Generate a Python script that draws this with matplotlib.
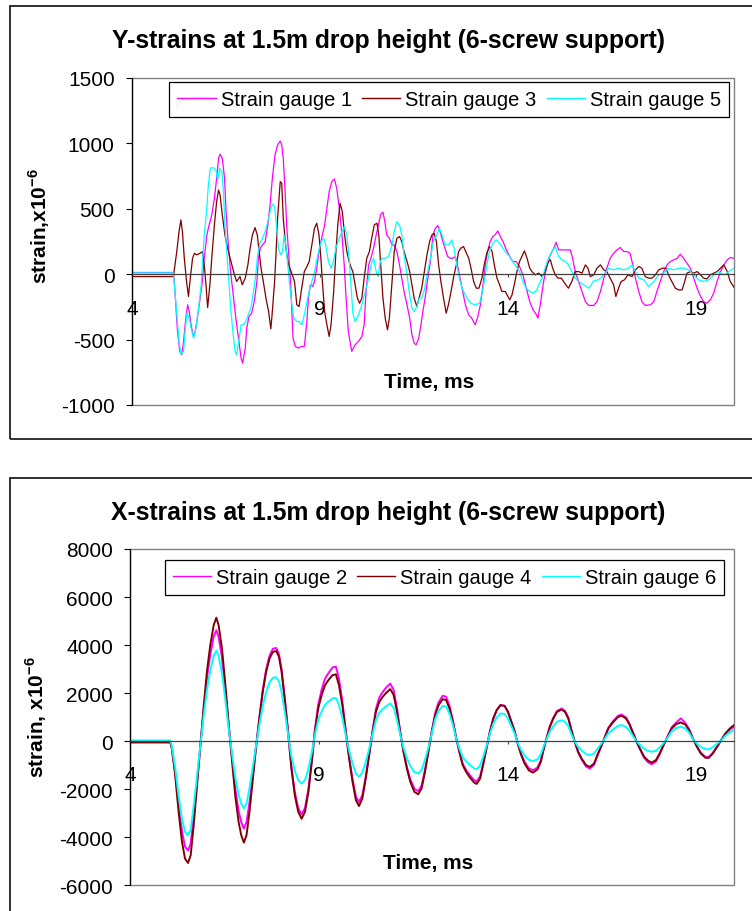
import matplotlib
matplotlib.use("Agg")
import matplotlib.pyplot as plt
from matplotlib.patches import Rectangle

plt.rcParams['font.family'] = ['Liberation Sans', 'DejaVu Sans']
plt.rcParams['axes.unicode_minus'] = False
plt.rcParams['mathtext.fontset'] = 'custom'
plt.rcParams['mathtext.rm'] = 'Liberation Sans'
plt.rcParams['mathtext.bf'] = 'Liberation Sans:bold'

# ---------------- Y-strains (gauges 1, 3, 5) ----------------
t_g1 = [4.0, 5.10, 5.13, 5.17, 5.21, 5.27, 5.32, 5.37, 5.43, 5.48, 5.52, 5.57, 5.63, 5.68, 5.75, 5.81,
        5.87, 5.92, 5.99, 6.05, 6.12, 6.19, 6.25, 6.30, 6.34, 6.40, 6.46, 6.50, 6.56, 6.62, 6.70, 6.76,
        6.83, 6.90, 6.94, 7.01, 7.05, 7.11, 7.18, 7.25, 7.32, 7.36, 7.41, 7.47, 7.54, 7.61, 7.67, 7.73,
        7.80, 7.87, 7.94, 7.98, 8.02, 8.07, 8.11, 8.16, 8.21, 8.25, 8.28, 8.34, 8.42, 8.51, 8.58, 8.64,
        8.69, 8.74, 8.80, 8.85, 8.91, 8.97, 9.04, 9.12, 9.18, 9.24, 9.31, 9.38, 9.44, 9.50, 9.58, 9.64,
        9.69, 9.75, 9.84, 9.93, 10.02, 10.11, 10.17, 10.22, 10.29, 10.35, 10.42, 10.49, 10.55, 10.61,
        10.67, 10.72, 10.77, 10.84, 10.91, 10.97, 11.04, 11.11, 11.17, 11.23, 11.31, 11.38, 11.44, 11.50,
        11.55, 11.62, 11.68, 11.73, 11.79, 11.85, 11.93, 12.00, 12.06, 12.13, 12.19, 12.26, 12.32, 12.39,
        12.46, 12.53, 12.59, 12.65, 12.72, 12.79, 12.86, 12.95, 13.03, 13.12, 13.18, 13.26, 13.33, 13.39,
        13.45, 13.52, 13.59, 13.65, 13.72, 13.79, 13.86, 13.95, 14.04, 14.12, 14.21, 14.30, 14.39, 14.48,
        14.57, 14.66, 14.74, 14.79, 14.85, 14.94, 15.03, 15.12, 15.21, 15.27, 15.34, 15.43, 15.56, 15.65,
        15.71, 15.78, 15.87, 15.96, 16.05, 16.14, 16.27, 16.36, 16.45, 16.54, 16.62, 16.71, 16.80, 16.89,
        16.98, 17.07, 17.16, 17.24, 17.31, 17.38, 17.47, 17.55, 17.64, 17.78, 17.87, 17.95, 18.04, 18.13,
        18.22, 18.31, 18.40, 18.49, 18.57, 18.66, 18.75, 18.84, 18.93, 19.02, 19.11, 19.19, 19.28, 19.37,
        19.46, 19.55, 19.64, 19.73, 19.82, 19.90, 20.0]
v_g1 = [13, 13, -81, -260, -438, -590, -616, -514, -336, -234, -285, -387, -476, -438, -311, -183,
        -56, 122, 300, 377, 453, 580, 733, 886, 917, 886, 733, 479, 224, 20, -183, -336,
        -489, -642, -680, -565, -412, -323, -298, -209, -56, 122, 199, 224, 250, 377, 530, 733,
        911, 988, 1018, 988, 886, 631, 377, 173, -30, -285, -489, -552, -565, -552, -552, -387,
        -183, -81, -94, -56, 46, 173, 275, 377, 504, 631, 708, 728, 657, 530, 300, 71,
        -183, -438, -590, -540, -514, -476, -387, -132, 71, 122, 199, 300, 377, 458,
        474, 402, 300, 275, 224, 224, 173, 71, -30, -132, -234, -336, -463, -527,
        -540, -489, -387, -285, -183, -56, 97, 300, 351, 372, 326, 250, 199, 135,
        122, 122, 135, 71, -30, -132, -234, -311, -336, -387, -336, -234, -81, 71,
        173, 250, 288, 300, 331, 288, 250, 186, 135, 97, 97, 59, -5, -107,
        -209, -272, -306, -336, -234, -56, 71, 148, 199, 244, 186, 186, 186, 186,
        122, 20, -56, -132, -209, -239, -239, -209, -132, -30, 46, 122, 160, 186,
        204, 173, 173, 160, 71, -30, -132, -209, -239, -234, -209, -132, -56, 20,
        71, 97, 110, 122, 153, 122, 84, 46, -30, -107, -170, -209, -222, -196,
        -145, -56, 20, 71, 110, 127, 122]

t_g3 = [4.0, 5.10, 5.19, 5.25, 5.30, 5.34, 5.39, 5.45, 5.50, 5.55, 5.61, 5.66, 5.72, 5.81, 5.87, 5.92,
        5.96, 6.01, 6.07, 6.12, 6.19, 6.25, 6.30, 6.34, 6.40, 6.47, 6.54, 6.61, 6.70, 6.78, 6.87, 6.93,
        7.01, 7.08, 7.14, 7.20, 7.27, 7.33, 7.38, 7.43, 7.49, 7.56, 7.63, 7.69, 7.73, 7.79, 7.83, 7.87,
        7.94, 7.98, 8.02, 8.09, 8.16, 8.23, 8.32, 8.38, 8.44, 8.51, 8.58, 8.65, 8.71, 8.78, 8.85, 8.91,
        8.97, 9.02, 9.06, 9.12, 9.18, 9.24, 9.29, 9.36, 9.42, 9.47, 9.53, 9.59, 9.65, 9.71, 9.77, 9.83,
        9.87, 9.93, 9.99, 10.05, 10.11, 10.17, 10.24, 10.31, 10.37, 10.44, 10.51, 10.56, 10.61, 10.67,
        10.73, 10.79, 10.84, 10.91, 10.97, 11.04, 11.11, 11.17, 11.23, 11.31, 11.38, 11.44, 11.50, 11.57,
        11.63, 11.70, 11.77, 11.84, 11.91, 11.97, 12.03, 12.09, 12.15, 12.21, 12.28, 12.35, 12.41, 12.48,
        12.55, 12.62, 12.68, 12.74, 12.81, 12.87, 12.95, 13.01, 13.08, 13.15, 13.22, 13.30, 13.36, 13.43,
        13.50, 13.57, 13.63, 13.70, 13.77, 13.83, 13.92, 14.04, 14.10, 14.16, 14.23, 14.30, 14.36, 14.43,
        14.50, 14.57, 14.63, 14.72, 14.81, 14.90, 14.98, 15.07, 15.12, 15.18, 15.25, 15.32, 15.41, 15.50,
        15.60, 15.69, 15.78, 15.87, 15.96, 16.05, 16.12, 16.18, 16.27, 16.36, 16.45, 16.54, 16.62, 16.71,
        16.80, 16.86, 16.93, 17.00, 17.09, 17.18, 17.29, 17.38, 17.47, 17.55, 17.64, 17.73, 17.82, 17.91,
        18.00, 18.10, 18.19, 18.28, 18.37, 18.44, 18.53, 18.62, 18.69, 18.75, 18.84, 18.93, 19.02, 19.11,
        19.19, 19.28, 19.37, 19.46, 19.55, 19.64, 19.73, 19.82, 19.90, 20.0]
v_g3 = [-18, -18, 173, 326, 415, 326, 122, -56, -170, -30, 122, 160, 148, 160, 173, 71,
        -56, -255, -81, 122, 377, 555, 644, 606, 453, 300, 199, 122, 20, -56, -18, -81,
        -30, 71, 199, 300, 356, 300, 173, 46, -56, -183, -285, -418, -285, -56, 173, 428,
        708, 695, 428, 199, 71, 20, -56, -234, -247, -107, 20, 59, 97, 224, 351, 390,
        300, 122, -56, -285, -387, -476, -387, -132, 173, 377, 542, 479, 300, 173, 97, 46,
        20, -81, -183, -222, -183, -30, 122, 173, 275, 377, 390, 300, 71, -183,
        -336, -425, -336, -56, 173, 275, 288, 250, 173, 97, 20, -81, -183, -247,
        -183, -107, 20, 148, 250, 300, 313, 250, 71, -56, -183, -298, -234, -132,
        -18, 71, 173, 199, 211, 173, 122, 46, -56, -107, -107, -30, 71, 160,
        211, 173, 71, -30, -81, -132, -132, -196, -158, -81, 20, 97, 135, 178,
        122, 46, 20, -5, 8, -18, 20, 97, 110, 46, -5, -30, -30, -69,
        -107, -56, 20, 20, 8, 71, 46, -18, -5, 46, 71, 33, 20, -30,
        -81, -170, -107, -56, -43, -5, -18, 33, 59, 46, -18, -30, -30, -5,
        33, 46, 46, -18, -69, -107, -120, -120, -56, 8, 20, 8, 20, -5,
        -30, -36, -5, 8, 20, 46, 71, 20, -56, -100]

t_g5 = [4.0, 5.10, 5.14, 5.20, 5.25, 5.30, 5.37, 5.41, 5.46, 5.52, 5.57, 5.64, 5.69, 5.76, 5.84, 5.88,
        5.92, 5.98, 6.03, 6.08, 6.16, 6.23, 6.28, 6.33, 6.39, 6.43, 6.47, 6.53, 6.58, 6.63, 6.69, 6.74,
        6.78, 6.85, 6.90, 6.96, 7.02, 7.09, 7.17, 7.23, 7.29, 7.34, 7.40, 7.47, 7.54, 7.61, 7.67, 7.73,
        7.79, 7.84, 7.89, 7.95, 8.00, 8.04, 8.09, 8.14, 8.19, 8.25, 8.30, 8.38, 8.44, 8.51, 8.58, 8.65,
        8.71, 8.78, 8.85, 8.92, 8.97, 9.03, 9.09, 9.15, 9.22, 9.29, 9.35, 9.42, 9.49, 9.58, 9.65, 9.71,
        9.77, 9.82, 9.87, 9.93, 10.02, 10.11, 10.20, 10.29, 10.35, 10.42, 10.49, 10.54, 10.60, 10.65,
        10.73, 10.82, 10.91, 10.97, 11.04, 11.11, 11.17, 11.23, 11.31, 11.38, 11.44, 11.50, 11.57, 11.64,
        11.70, 11.77, 11.84, 11.93, 12.01, 12.10, 12.17, 12.24, 12.32, 12.41, 12.50, 12.56, 12.63, 12.72,
        12.81, 12.90, 13.01, 13.12, 13.24, 13.33, 13.42, 13.50, 13.59, 13.68, 13.77, 13.86, 13.95, 14.04,
        14.12, 14.21, 14.30, 14.39, 14.48, 14.57, 14.67, 14.76, 14.81, 14.90, 14.98, 15.07, 15.16, 15.25,
        15.34, 15.43, 15.52, 15.60, 15.69, 15.78, 15.87, 16.00, 16.14, 16.27, 16.40, 16.54, 16.67, 16.80,
        16.93, 17.07, 17.20, 17.29, 17.38, 17.47, 17.60, 17.73, 17.87, 18.00, 18.13, 18.26, 18.40, 18.53,
        18.66, 18.80, 18.93, 19.06, 19.19, 19.33, 19.46, 19.59, 19.73, 19.86, 20.0]
v_g5 = [10, 10, -132, -336, -514, -611, -590, -438, -298, -336, -412, -489, -425, -285, -81, 122,
        300, 479, 682, 810, 815, 797, 720, 810, 784, 631, 377, 122, -81, -285, -463, -590,
        -616, -489, -387, -387, -362, -311, -247, -132, -5, 148, 237, 275, 326, 402, 479, 535,
        517, 377, 199, 148, 173, 300, 224, 71, -81, -234, -336, -362, -362, -387, -311, -209,
        -132, -56, 20, 122, 186, 250, 275, 224, 97, 46, 97, 199, 262, 326, 364, 300,
        122, -80, -300, -362, -311, -234, -132, -30, 71, 122, 20, -18, 97, 122,
        122, 135, 224, 326, 402, 377, 300, 148, -5, -158, -260, -285, -247, -183,
        -183, -120, -5, 122, 250, 300, 351, 300, 224, 224, 262, 199, 71, -56,
        -132, -183, -222, -234, -222, -107, 46, 173, 237, 262, 237, 199, 160, 135,
        97, 59, 20, -56, -107, -132, -145, -120, -81, -30, 46, 122, 173, 211,
        135, 110, 97, 71, 20, -30, -56, -81, -107, -51, -43, -5, 46, 33,
        46, 33, 46, 71, 20, -30, -43, -94, -56, -5, 8, 46, 33, 46,
        46, 33, -5, -43, -56, -43, -5, 20, -5, 20, 46]

# ---------------- X-strains (gauges 2, 4, 6) ----------------
t_x = [4.0, 5.06, 5.10, 5.19, 5.28, 5.37, 5.45, 5.53, 5.60, 5.68, 5.77, 5.85,
       5.94, 6.03, 6.12, 6.21, 6.28, 6.34, 6.43, 6.52, 6.61,
       6.70, 6.78, 6.87, 6.94, 7.01, 7.08, 7.16, 7.25, 7.33,
       7.42, 7.51, 7.60, 7.69, 7.78, 7.87, 7.94, 8.01, 8.10, 8.19,
       8.27, 8.36, 8.45, 8.54, 8.63, 8.72, 8.81,
       8.89, 8.98, 9.07, 9.16, 9.25, 9.36, 9.45, 9.53, 9.62, 9.71,
       9.80, 9.89, 9.98, 10.06, 10.15, 10.24, 10.33,
       10.42, 10.51, 10.60, 10.69, 10.77, 10.89, 10.98, 11.07, 11.15,
       11.24, 11.33, 11.42, 11.53, 11.63, 11.72, 11.81, 11.90,
       11.99, 12.08, 12.17, 12.28, 12.37, 12.46, 12.55, 12.64,
       12.72, 12.81, 12.90, 12.99, 13.11, 13.18, 13.27, 13.35, 13.44,
       13.53, 13.62, 13.71, 13.81, 13.92, 14.01, 14.10, 14.19,
       14.28, 14.36, 14.45, 14.56, 14.67, 14.79, 14.88, 14.94,
       15.03, 15.12, 15.21, 15.31, 15.43, 15.52, 15.61, 15.69,
       15.78, 15.87, 15.96, 16.08, 16.18, 16.29, 16.38, 16.49,
       16.58, 16.67, 16.80, 16.93, 17.02, 17.14, 17.23, 17.33,
       17.42, 17.53, 17.62, 17.73, 17.82, 17.93, 18.03, 18.13,
       18.24, 18.35, 18.47, 18.59, 18.71, 18.81, 18.91,
       19.02, 19.12, 19.24, 19.33, 19.44, 19.55, 19.66,
       19.77, 19.89, 20.0]
v_g2 = [-20, -20, -270, -1280, -2640, -3760, -4390, -4550, -4270, -3140, -1640, -270,
        1220, 2600, 3600, 4350, 4620, 4350, 3470, 2100, 600,
        -740, -1940, -2900, -3370, -3640, -3370, -2540, -1350, -260,
        970, 2120, 2990, 3560, 3850, 3880, 3630, 2990, 1700, 260,
        -1080, -2130, -2780, -3050, -2780, -2000, -810,
        430, 1520, 2140, 2600, 2830, 3070, 3100, 2600, 1670, 430,
        -680, -1590, -2310, -2530, -2250, -1470, -550,
        430, 1350, 1820, 2050, 2210, 2400, 2130, 1350, 430,
        -410, -1070, -1590, -1980, -2080, -1850, -1200, -410,
        420, 1170, 1620, 1890, 1850, 1470, 860, 120,
        -410, -940, -1200, -1400, -1620, -1670, -1470, -940, -280,
        390, 940, 1290, 1500, 1470, 1220, 800, 390,
        -160, -540, -860, -1130, -1210, -1100, -800, -410,
        110, 620, 970, 1260, 1360, 1260, 970, 470,
        -30, -470, -760, -1060, -1140, -990, -610, -180,
        190, 560, 840, 1060, 1110, 990, 720, 340,
        -30, -410, -700, -890, -960, -850, -550, -180,
        200, 580, 780, 950, 760, 500, 120,
        -230, -480, -650, -660, -480, -230, 40,
        290, 480, 600]
v_g4 = [-55, -55, -305, -1420, -2940, -4190, -4890, -5070, -4750, -3500, -1830, -300,
        1360, 2890, 4000, 4830, 5140, 4830, 3860, 2330, 670,
        -860, -2250, -3360, -3910, -4220, -3910, -2940, -1560, -300,
        940, 2050, 2890, 3440, 3720, 3750, 3510, 2890, 1640, 250,
        -1140, -2250, -2940, -3230, -2940, -2110, -860,
        390, 1360, 1920, 2330, 2540, 2750, 2780, 2330, 1500, 390,
        -720, -1690, -2460, -2700, -2390, -1560, -580,
        390, 1220, 1640, 1850, 1990, 2170, 1920, 1220, 390,
        -440, -1140, -1690, -2110, -2210, -1970, -1280, -440,
        390, 1080, 1500, 1750, 1710, 1360, 800, 110,
        -440, -1000, -1280, -1490, -1720, -1780, -1560, -1000, -300,
        390, 940, 1290, 1500, 1470, 1220, 800, 390,
        -170, -580, -930, -1210, -1310, -1180, -860, -440,
        110, 600, 940, 1220, 1320, 1220, 940, 460,
        -30, -440, -720, -1000, -1070, -930, -580, -170,
        180, 530, 800, 1010, 1060, 940, 690, 320,
        -30, -380, -650, -820, -890, -790, -510, -170,
        180, 530, 710, 780, 690, 460, 110,
        -240, -510, -690, -700, -510, -240, 40,
        320, 530, 670]
v_g6 = [30, 30, -200, -1100, -2270, -3240, -3780, -3920, -3670, -2700, -1410, -230,
        1000, 2120, 2940, 3550, 3770, 3550, 2830, 1710, 490,
        -570, -1490, -2230, -2600, -2800, -2600, -1950, -1040, -200,
        670, 1460, 2050, 2440, 2640, 2660, 2490, 2050, 1160, 180,
        -630, -1240, -1620, -1770, -1620, -1160, -470,
        250, 880, 1240, 1510, 1650, 1780, 1800, 1510, 970, 250,
        -400, -930, -1350, -1485, -1310, -860, -320,
        280, 880, 1190, 1340, 1440, 1570, 1390, 880, 280,
        -270, -700, -1030, -1290, -1346, -1200, -780, -270,
        330, 910, 1260, 1470, 1440, 1140, 670, 90,
        -290, -660, -840, -980, -1130, -1170, -1020, -660, -200,
        300, 720, 990, 1150, 1130, 940, 620, 300,
        -110, -370, -600, -770, -830, -760, -550, -280,
        70, 400, 620, 810, 870, 810, 620, 300,
        -20, -240, -390, -540, -580, -510, -320, -90,
        110, 330, 500, 640, 670, 590, 430, 200,
        -15, -190, -330, -410, -440, -400, -260, -90,
        140, 410, 550, 600, 530, 350, 90,
        -110, -250, -330, -340, -250, -110, 20,
        220, 370, 460]

x_ticks = [4, 9, 14, 19]
y_ticks_top = [-1000, -500, 0, 500, 1000, 1500]
y_ticks_bot = [-6000, -4000, -2000, 0, 2000, 4000, 6000, 8000]

MAGENTA, DARKRED, CYAN = '#FF00FF', '#800000', '#00FFFF'

W, H = 752, 912
fig = plt.figure(figsize=(W / 100, H / 100), dpi=100)


def px_rect(left, top, right, bottom):
    return [left / W, 1 - bottom / H, (right - left) / W, (bottom - top) / H]


def style_axes(ax, yticks, ylim):
    ax.set_xlim(4, 20)
    ax.set_ylim(*ylim)
    for s in ('top', 'right'):
        ax.spines[s].set_visible(False)
    ax.spines['bottom'].set_position(('data', 0))
    ax.spines['bottom'].set_color('#404040')
    ax.spines['bottom'].set_linewidth(0.9)
    ax.spines['left'].set_color('#000000')
    ax.spines['left'].set_linewidth(0.9)
    ax.add_patch(Rectangle((0, 0), 1, 1, transform=ax.transAxes, fill=False,
                           edgecolor='#808080', linewidth=1.0, clip_on=False, zorder=0.5))
    ax.set_xticks(x_ticks)
    ax.set_xticklabels([str(v) for v in x_ticks])
    ax.set_yticks(yticks)
    ax.set_yticklabels([str(v) for v in yticks])
    ax.tick_params(axis='x', direction='out', length=2.5, width=0.8, color='#404040',
                   pad=15, labelsize=15)
    ax.tick_params(axis='y', direction='out', length=4.5, width=0.8, pad=8, labelsize=15)
    ax.patch.set_alpha(0)


def legend(ax, labels, anchor):
    leg = ax.legend(labels, loc='upper right', bbox_to_anchor=anchor, ncol=3,
                    fontsize=14.5, handlelength=1.9, handletextpad=0.25, columnspacing=0.5,
                    borderpad=0.4, borderaxespad=0, frameon=True, fancybox=False,
                    edgecolor='#000000', framealpha=1)
    leg.get_frame().set_linewidth(0.9)
    for line in leg.get_lines():
        line.set_linewidth(1.0)


# outer chart frames
fig.add_artist(Rectangle((10 / W, 1 - 440 / H), 1.0, 433 / H, transform=fig.transFigure,
                         fill=False, edgecolor='#202020', linewidth=1.3))
fig.add_artist(Rectangle((10 / W, -0.2), 1.0, 0.2 + 1 - 479 / H, transform=fig.transFigure,
                         fill=False, edgecolor='#202020', linewidth=1.3))

# top chart
ax1 = fig.add_axes(px_rect(132, 79, 734, 406))
ax1.plot(t_g1, v_g1, color=MAGENTA, lw=0.9)
ax1.plot(t_g3, v_g3, color=DARKRED, lw=0.9)
ax1.plot(t_g5, v_g5, color=CYAN, lw=0.9)
style_axes(ax1, y_ticks_top, (-1000, 1500))
legend(ax1, ['Strain gauge 1', 'Strain gauge 3', 'Strain gauge 5'], (0.9917, 0.9878))

fig.text(388.5 / W, 1 - 48.3 / H, 'Y-strains at 1.5m drop height (6-screw support)',
         ha='center', va='baseline', fontsize=17.8, fontweight='bold')
fig.text(39 / W, 1 - 226.5 / H, r'strain,x10$^{\mathbf{-6}}$', rotation=90,
         ha='center', va='center', fontsize=15, fontweight='bold')
fig.text(429.5 / W, 1 - 387.7 / H, 'Time, ms', ha='center', va='baseline',
         fontsize=15, fontweight='bold')

# bottom chart
ax2 = fig.add_axes(px_rect(130.3, 550, 734, 886.3))
ax2.plot(t_x, v_g2, color=MAGENTA, lw=1.4)
ax2.plot(t_x, v_g4, color=DARKRED, lw=1.4)
ax2.plot(t_x, v_g6, color=CYAN, lw=1.4)
style_axes(ax2, y_ticks_bot, (-6000, 8000))
legend(ax2, ['Strain gauge 2', 'Strain gauge 4', 'Strain gauge 6'], (0.9839, 0.9682))

fig.text(388.5 / W, 1 - 520 / H, 'X-strains at 1.5m drop height (6-screw support)',
         ha='center', va='baseline', fontsize=17.8, fontweight='bold')
fig.text(36 / W, 1 - 717.5 / H, r'strain, x10$^{\mathbf{-6}}$', rotation=90,
         ha='center', va='center', fontsize=15, fontweight='bold')
fig.text(428.5 / W, 1 - 869 / H, 'Time, ms', ha='center', va='baseline',
         fontsize=15, fontweight='bold')

fig.savefig('out.png', dpi=100, facecolor='white')
